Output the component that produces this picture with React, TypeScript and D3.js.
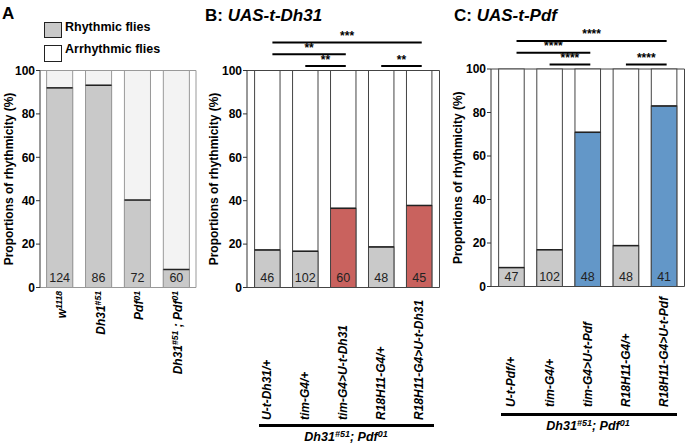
import React from "react";
import * as d3 from "d3";

const FONT = "'Liberation Sans', Arial, Helvetica, sans-serif";

const catsA = ["w1118", "Dh31", "Pdf", "DhPdf"];
const valsA = [92, 93.2, 40.3, 8.3];
const countsA = [124, 86, 72, 60];

const catsB = ["U-t-Dh31/+", "tim-G4/+", "tim-G4>U-t-Dh31", "R18H11-G4/+", "R18H11-G4>U-t-Dh31"];
const valsB = [17.3, 16.7, 36.5, 18.7, 37.8];
const countsB = [46, 102, 60, 48, 45];
const hiB = [false, false, true, false, true];

const catsC = ["U-t-Pdf/+", "tim-G4/+", "tim-G4>U-t-Pdf", "R18H11-G4/+", "R18H11-G4>U-t-Pdf"];
const valsC = [8.7, 16.9, 70.9, 18.8, 83];
const countsC = [47, 102, 48, 48, 41];
const hiC = [false, false, true, false, true];

const sigB = [
  { a: 0, b: 4, label: "***", level: 2 },
  { a: 0, b: 2, label: "**", level: 1 },
  { a: 1, b: 2, label: "**", level: 0 },
  { a: 3, b: 4, label: "**", level: 0 },
];
const sigC = [
  { a: 0, b: 4, label: "****", level: 2 },
  { a: 0, b: 2, label: "****", level: 1 },
  { a: 1, b: 2, label: "****", level: 0 },
  { a: 3, b: 4, label: "****", level: 0 },
];

const ticks = [0, 20, 40, 60, 80, 100];

type PanelProps = {
  cats: string[];
  vals: number[];
  counts: number[];
  x0: number;
  x1: number;
  yBottom: number;
  yTop: number;
  mode: "A" | "B" | "C";
  hi?: boolean[];
  hiColor?: string;
};

function Axis({ y, x0, labelX }: { y: d3.ScaleLinear<number, number>; x0: number; labelX: number }) {
  const mid = (y(0) + y(100)) / 2;
  return (
    <g>
      <line x1={x0} x2={x0} y1={y(0)} y2={y(100)} stroke="#333" strokeWidth={1} />
      {ticks.map((t) => (
        <g key={t}>
          <line x1={x0 - 4} x2={x0} y1={y(t)} y2={y(t)} stroke="#333" strokeWidth={1} />
          <text x={x0 - 5} y={y(t)} dy="0.35em" textAnchor="end" fontSize={12} fontWeight="bold" fontFamily={FONT}>
            {t}
          </text>
        </g>
      ))}
      <text
        transform={`translate(${labelX},${mid}) rotate(-90)`}
        textAnchor="middle"
        fontSize={12}
        fontWeight="bold"
        fontFamily={FONT}
      >
        Proportions of rhythmicity (%)
      </text>
    </g>
  );
}

function Panel({ cats, vals, counts, x0, x1, yBottom, yTop, mode, hi, hiColor }: PanelProps) {
  const y = d3.scaleLinear().domain([0, 100]).range([yBottom, yTop]);
  const x = d3
    .scaleBand<string>()
    .domain(cats)
    .range([x0, x1])
    .paddingInner(0.33)
    .paddingOuter(mode === "A" ? 0.17 : 0.2);
  const frame = mode === "A" ? "#999" : "#444";
  const topFill = mode === "A" ? "#f3f3f3" : "#ffffff";
  return (
    <g>
      <line x1={x0} x2={x1} y1={y(100)} y2={y(100)} stroke={frame} strokeWidth={1} />
      <line x1={x1} x2={x1} y1={y(100)} y2={y(0)} stroke={frame} strokeWidth={1} />
      <line x1={x0} x2={x1} y1={y(0)} y2={y(0)} stroke={frame} strokeWidth={1} />
      {cats.map((c, i) => {
        const bx = x(c)!;
        const bw = x.bandwidth();
        const fill = hi && hi[i] ? hiColor : "#c9c9c9";
        return (
          <g key={c}>
            <rect x={bx} y={y(100)} width={bw} height={y(0) - y(100)} fill={topFill} stroke={frame} strokeWidth={1} />
            <rect x={bx} y={y(vals[i])} width={bw} height={y(0) - y(vals[i])} fill={fill} stroke={frame} strokeWidth={1} />
            <line x1={bx} x2={bx + bw} y1={y(vals[i])} y2={y(vals[i])} stroke="#222" strokeWidth={1.5} />
            <text
              x={bx + bw / 2}
              y={y(0) - 6}
              textAnchor="middle"
              fontSize={12.5}
              fontFamily={FONT}
              fill="#222"
            >
              {counts[i]}
            </text>
          </g>
        );
      })}
    </g>
  );
}

function Sig({
  x,
  sigs,
  baseY,
}: {
  x: d3.ScaleBand<string>;
  sigs: { a: number; b: number; label: string; level: number }[];
  baseY: number;
}) {
  const d = x.domain();
  return (
    <g>
      {sigs.map((s, i) => {
        const xa = x(d[s.a])! + x.bandwidth() * (s.level === 0 ? 0.5 : 0.7);
        const xb = x(d[s.b])! + x.bandwidth() * 0.6;
        const yy = baseY - s.level * 11.8;
        return (
          <g key={i}>
            <line x1={xa} x2={xb} y1={yy} y2={yy} stroke="#000" strokeWidth={2} />
            <text x={(xa + xb) / 2} y={yy - 2.5} textAnchor="middle" fontSize={12} fontWeight="bold" fontFamily={FONT}>
              {s.label}
            </text>
          </g>
        );
      })}
    </g>
  );
}

function SupLabel({ base, sup, rest }: { base: string; sup: string; rest?: React.ReactNode }) {
  return (
    <>
      <tspan>{base}</tspan>
      <tspan fontSize="0.72em" dy="-0.45em">
        {sup}
      </tspan>
      {rest}
    </>
  );
}

function DoubleLabel() {
  return (
    <>
      <tspan>Dh31</tspan>
      <tspan fontSize="0.72em" dy="-0.45em">#51</tspan>
      <tspan dy="0.32em"> ; Pdf</tspan>
      <tspan fontSize="0.72em" dy="-0.45em">01</tspan>
    </>
  );
}

function GroupLabel() {
  return (
    <>
      <tspan>Dh31</tspan>
      <tspan fontSize="0.72em" dy="-0.45em">#51</tspan>
      <tspan dy="0.32em">; Pdf</tspan>
      <tspan fontSize="0.72em" dy="-0.45em">01</tspan>
    </>
  );
}

export default function App() {
  const xA = d3.scaleBand<string>().domain(catsA).range([40, 196]).paddingInner(0.33).paddingOuter(0.17);
  const yA = d3.scaleLinear().domain([0, 100]).range([287.5, 70.5]);
  const yB = d3.scaleLinear().domain([0, 100]).range([287.5, 70.5]);
  const xB = d3.scaleBand<string>().domain(catsB).range([247, 439.5]).paddingInner(0.33).paddingOuter(0.2);
  const yC = d3.scaleLinear().domain([0, 100]).range([286.5, 69]);
  const xC = d3.scaleBand<string>().domain(catsC).range([491, 684.5]).paddingInner(0.33).paddingOuter(0.2);

  const labelsA: React.ReactNode[] = [
    <SupLabel base="w" sup="1118" />,
    <SupLabel base="Dh31" sup="#51" />,
    <SupLabel base="Pdf" sup="01" />,
    <DoubleLabel />,
  ];

  return (
    <svg width={685} height={445} style={{ position: "absolute", left: 0, top: 0, background: "#fff" }}>
      <rect x={0} y={0} width={685} height={445} fill="#fff" />
      {/* Panel A */}
      <text x={2} y={19} fontSize={17} fontWeight="bold" fontFamily={FONT}>A</text>
      <rect x={44.5} y={22.5} width={17} height={15} fill="#c9c9c9" stroke="#222" strokeWidth={1} />
      <rect x={44.5} y={45.5} width={17} height={16} fill="#fff" stroke="#222" strokeWidth={1} />
      <text x={65} y={30.5} fontSize={12.5} fontWeight="bold" fontFamily={FONT}>Rhythmic flies</text>
      <text x={65} y={52.5} fontSize={12.5} fontWeight="bold" fontFamily={FONT}>Arrhythmic flies</text>
      <Panel cats={catsA} vals={valsA} counts={countsA} x0={40} x1={196} yBottom={287.5} yTop={70.5} mode="A" />
      <Axis y={yA} x0={40} labelX={13} />
      {catsA.map((c, i) => (
        <text
          key={c}
          transform={`translate(${xA(c)! + xA.bandwidth() / 2 + 6},${291}) rotate(-90)`}
          textAnchor="end"
          fontSize={12}
          fontWeight="bold"
          fontStyle="italic"
          fontFamily={FONT}
        >
          {labelsA[i]}
        </text>
      ))}

      {/* Panel B */}
      <text x={205} y={21} fontSize={17} fontWeight="bold" fontFamily={FONT}>
        B: <tspan fontStyle="italic">UAS-t-Dh31</tspan>
      </text>
      <Panel cats={catsB} vals={valsB} counts={countsB} x0={247} x1={439.5} yBottom={287.5} yTop={70.5} mode="B" hi={hiB} hiColor="#c9625e" />
      <Axis y={yB} x0={247} labelX={218} />
      <Sig x={xB} sigs={sigB} baseY={66} />
      {catsB.map((c) => (
        <text
          key={c}
          transform={`translate(${xB(c)! + xB.bandwidth() / 2 + 4},${420}) rotate(-90)`}
          textAnchor="start"
          fontSize={12}
          fontWeight="bold"
          fontStyle="italic"
          fontFamily={FONT}
        >
          {c}
        </text>
      ))}
      <line x1={259} x2={434} y1={425.5} y2={425.5} stroke="#000" strokeWidth={3} />
      <text x={346} y={441} textAnchor="middle" fontSize={12.5} fontWeight="bold" fontStyle="italic" fontFamily={FONT}>
        <GroupLabel />
      </text>

      {/* Panel C */}
      <text x={454} y={21} fontSize={17} fontWeight="bold" fontFamily={FONT}>
        C: <tspan fontStyle="italic">UAS-t-Pdf</tspan>
      </text>
      <Panel cats={catsC} vals={valsC} counts={countsC} x0={491} x1={684.5} yBottom={286.5} yTop={69} mode="C" hi={hiC} hiColor="#6397c8" />
      <Axis y={yC} x0={491} labelX={462} />
      <Sig x={xC} sigs={sigC} baseY={64.5} />
      {catsC.map((c) => (
        <text
          key={c}
          transform={`translate(${xC(c)! + xC.bandwidth() / 2 + 4},${407}) rotate(-90)`}
          textAnchor="start"
          fontSize={12}
          fontWeight="bold"
          fontStyle="italic"
          fontFamily={FONT}
        >
          {c}
        </text>
      ))}
      <line x1={501} x2={677} y1={414.5} y2={414.5} stroke="#000" strokeWidth={3} />
      <text x={588} y={430} textAnchor="middle" fontSize={12.5} fontWeight="bold" fontStyle="italic" fontFamily={FONT}>
        <GroupLabel />
      </text>
    </svg>
  );
}
